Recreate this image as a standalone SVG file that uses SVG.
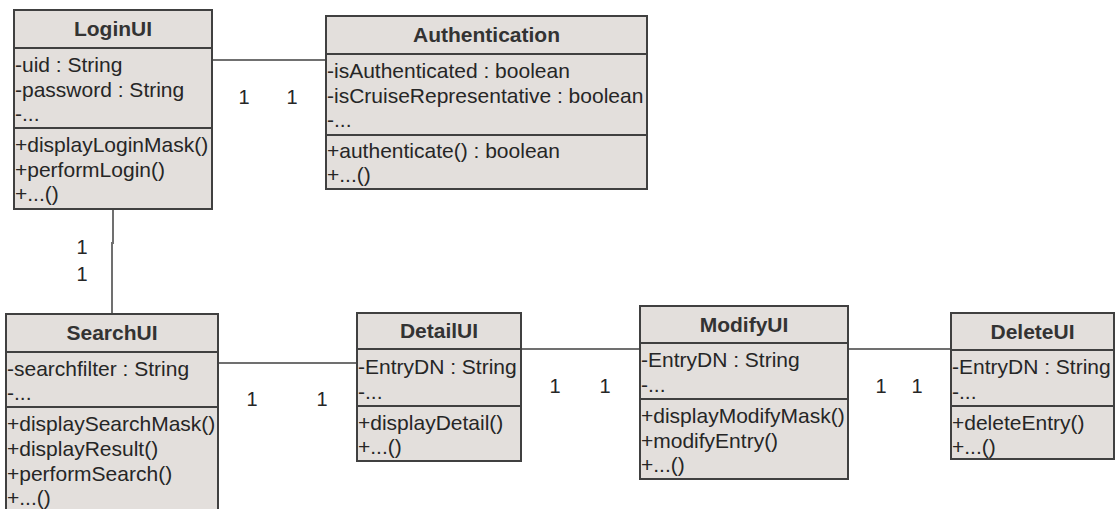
<svg xmlns="http://www.w3.org/2000/svg" width="1115" height="509" viewBox="0 0 1115 509" font-family="Liberation Sans, Arimo, Arial, Helvetica, sans-serif">
<style>
.box{fill:#e3dfdc;stroke:#404040;stroke-width:2}
.div{stroke:#404040;stroke-width:2}
text{font-family:'Liberation Sans',Arimo,Arial,Helvetica,sans-serif}
.t{font-size:21px;fill:#262626}
.h{font-size:21px;font-weight:bold;fill:#333;text-anchor:middle}
.m{font-size:20px;fill:#262626;text-anchor:middle}
.c{stroke:#707070;stroke-width:2;fill:none}
</style>
<rect width="1115" height="509" fill="#fff"/>
<g id="connectors">
<line class="c" x1="212" y1="60" x2="326" y2="60"/>
<polyline class="c" points="113,209 113,243 112,243 112,314"/>
<line class="c" x1="218" y1="363" x2="357" y2="363"/>
<line class="c" x1="521" y1="349" x2="640" y2="349"/>
<line class="c" x1="848" y1="349" x2="951" y2="349"/>
<text class="m" x="244" y="104">1</text>
<text class="m" x="292" y="104">1</text>
<text class="m" x="82" y="254">1</text>
<text class="m" x="82" y="281">1</text>
<text class="m" x="252" y="406">1</text>
<text class="m" x="322" y="406">1</text>
<text class="m" x="555" y="393">1</text>
<text class="m" x="605" y="393">1</text>
<text class="m" x="881" y="393">1</text>
<text class="m" x="917" y="393">1</text>
</g>
<g id="LoginUI">
<rect class="box" x="14" y="10" width="198" height="199"/>
<line class="div" x1="14" y1="48" x2="212" y2="48"/>
<line class="div" x1="14" y1="128" x2="212" y2="128"/>
<text class="h" x="113" y="36">LoginUI</text>
<text class="t" x="15" y="72">-uid : String</text>
<text class="t" x="15" y="97">-password : String</text>
<text class="t" x="15" y="121">-...</text>
<text class="t" x="15" y="152">+displayLoginMask()</text>
<text class="t" x="15" y="177">+performLogin()</text>
<text class="t" x="15" y="201">+...()</text>
</g>
<g id="Authentication">
<rect class="box" x="326" y="16" width="321" height="173"/>
<line class="div" x1="326" y1="54" x2="647" y2="54"/>
<line class="div" x1="326" y1="135" x2="647" y2="135"/>
<text class="h" x="486.5" y="42">Authentication</text>
<text class="t" x="327" y="78">-isAuthenticated : boolean</text>
<text class="t" x="327" y="103">-isCruiseRepresentative : boolean</text>
<text class="t" x="327" y="127">-...</text>
<text class="t" x="327" y="158">+authenticate() : boolean</text>
<text class="t" x="327" y="182">+...()</text>
</g>
<g id="SearchUI">
<rect class="box" x="6" y="314" width="212" height="204"/>
<line class="div" x1="6" y1="352" x2="218" y2="352"/>
<line class="div" x1="6" y1="407" x2="218" y2="407"/>
<text class="h" x="112" y="340">SearchUI</text>
<text class="t" x="7" y="376">-searchfilter : String</text>
<text class="t" x="7" y="400">-...</text>
<text class="t" x="7" y="431">+displaySearchMask()</text>
<text class="t" x="7" y="456">+displayResult()</text>
<text class="t" x="7" y="481">+performSearch()</text>
<text class="t" x="7" y="505">+...()</text>
</g>
<g id="DetailUI">
<rect class="box" x="357" y="313" width="164" height="148"/>
<line class="div" x1="357" y1="349" x2="521" y2="349"/>
<line class="div" x1="357" y1="406" x2="521" y2="406"/>
<text class="h" x="439" y="338">DetailUI</text>
<text class="t" x="358" y="374">-EntryDN : String</text>
<text class="t" x="358" y="399">-...</text>
<text class="t" x="358" y="430">+displayDetail()</text>
<text class="t" x="358" y="454">+...()</text>
</g>
<g id="ModifyUI">
<rect class="box" x="640" y="306" width="208" height="173"/>
<line class="div" x1="640" y1="343" x2="848" y2="343"/>
<line class="div" x1="640" y1="399" x2="848" y2="399"/>
<text class="h" x="744" y="332">ModifyUI</text>
<text class="t" x="641" y="367">-EntryDN : String</text>
<text class="t" x="641" y="392">-...</text>
<text class="t" x="641" y="423">+displayModifyMask()</text>
<text class="t" x="641" y="448">+modifyEntry()</text>
<text class="t" x="641" y="472">+...()</text>
</g>
<g id="DeleteUI">
<rect class="box" x="951" y="313" width="163" height="146"/>
<line class="div" x1="951" y1="350" x2="1114" y2="350"/>
<line class="div" x1="951" y1="406" x2="1114" y2="406"/>
<text class="h" x="1032.5" y="339">DeleteUI</text>
<text class="t" x="952" y="374">-EntryDN : String</text>
<text class="t" x="952" y="399">-...</text>
<text class="t" x="952" y="430">+deleteEntry()</text>
<text class="t" x="952" y="454">+...()</text>
</g>
</svg>
